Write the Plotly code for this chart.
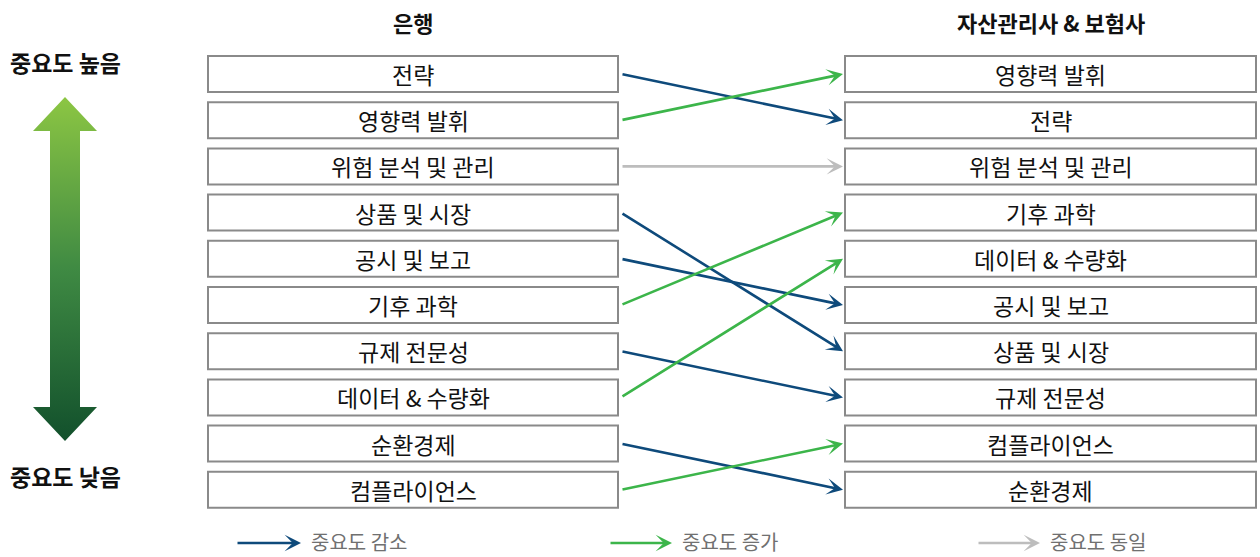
import base64
import plotly.graph_objects as go

# Competency ranking, most important first
bank_rank = ["전략", "영향력 발휘", "위험 분석 및 관리", "상품 및 시장", "공시 및 보고",
             "기후 과학", "규제 전문성", "데이터 & 수량화", "순환경제", "컴플라이언스"]
insurer_rank = ["영향력 발휘", "전략", "위험 분석 및 관리", "기후 과학", "데이터 & 수량화",
                "공시 및 보고", "상품 및 시장", "규제 전문성", "컴플라이언스", "순환경제"]

col_titles = ["은행", "자산관리사 & 보험사"]
scale_labels = ["중요도 높음", "중요도 낮음"]
legend_labels = ["중요도 감소", "중요도 증가", "중요도 동일"]

W, H = 1260, 557
FONT = "Noto Sans CJK KR"
C_DOWN, C_UP, C_SAME = "#0e4a7b", "#3cb54a", "#bdbdbd"
BOX_EDGE = "#8a8a8a"

# Layout geometry (pixel space)
ROW0, ROW_STEP, BOX_H = 74, 46.2, 36
LEFT_X0, LEFT_X1 = 208, 618
RIGHT_X0, RIGHT_X1 = 845, 1256
ARROW_X0, ARROW_X1 = 621, 843


def row_y(i):
    return ROW0 + i * ROW_STEP


fig = go.Figure()
shapes, annotations = [], []

# Ranked boxes on both sides
for items, x0, x1 in [(bank_rank, LEFT_X0, LEFT_X1), (insurer_rank, RIGHT_X0, RIGHT_X1)]:
    for i, name in enumerate(items):
        yc = row_y(i)
        shapes.append(dict(type="rect", xref="x", yref="y", x0=x0, x1=x1,
                           y0=yc - BOX_H / 2, y1=yc + BOX_H / 2,
                           line=dict(color=BOX_EDGE, width=2), fillcolor="white"))
        annotations.append(dict(x=(x0 + x1) / 2, y=yc, xref="x", yref="y", text=name,
                                showarrow=False, font=dict(family=FONT, size=23, color="#111")))

# Arrows from bank rank to asset manager / insurer rank
for i, name in enumerate(bank_rank):
    j = insurer_rank.index(name)
    color = C_UP if j < i else (C_DOWN if j > i else C_SAME)
    annotations.append(dict(x=ARROW_X1, y=row_y(j), ax=ARROW_X0, ay=row_y(i),
                            xref="x", yref="y", axref="x", ayref="y", text="",
                            showarrow=True, arrowhead=3, arrowsize=1.05, arrowwidth=2.6,
                            arrowcolor=color, standoff=0))

# Column titles
for text, xc in zip(col_titles, [(LEFT_X0 + LEFT_X1) / 2, (RIGHT_X0 + RIGHT_X1) / 2]):
    annotations.append(dict(x=xc, y=22, xref="x", yref="y", text=f"<b>{text}</b>",
                            showarrow=False, font=dict(family=FONT, size=22, color="#111")))

# Importance scale labels
for text, yc in zip(scale_labels, [62, 476]):
    annotations.append(dict(x=65, y=yc, xref="x", yref="y", text=f"<b>{text}</b>",
                            showarrow=False, font=dict(family=FONT, size=23, color="#111")))

# Gradient double-headed arrow for the importance scale
svg = (
    '<svg xmlns="http://www.w3.org/2000/svg" width="64" height="344" viewBox="0 0 64 344">'
    '<defs><linearGradient id="g" x1="0" y1="0" x2="0" y2="1">'
    '<stop offset="0" stop-color="#8cc643"/>'
    '<stop offset="0.5" stop-color="#3f8a43"/>'
    '<stop offset="1" stop-color="#12502c"/>'
    '</linearGradient></defs>'
    '<polygon fill="url(#g)" points="32,0 64,34 47,34 47,310 64,310 32,344 0,310 17,310 17,34 0,34"/>'
    '</svg>'
)
uri = "data:image/svg+xml;base64," + base64.b64encode(svg.encode()).decode()
images = [dict(source=uri, xref="x", yref="y", x=33, y=97, sizex=64, sizey=344,
               sizing="stretch", layer="above", xanchor="left", yanchor="top")]

# Legend row
legend_items = [(236, 301, C_DOWN), (609, 672, C_UP), (977, 1040, C_SAME)]
for (x0, x1, color), label in zip(legend_items, legend_labels):
    annotations.append(dict(x=x1, y=543, ax=x0, ay=543, xref="x", yref="y",
                            axref="x", ayref="y", text="", showarrow=True, arrowhead=3,
                            arrowsize=1.05, arrowwidth=2.6, arrowcolor=color, standoff=0))
    annotations.append(dict(x=x1 + 8, y=541, xref="x", yref="y", text=label,
                            xanchor="left", showarrow=False,
                            font=dict(family=FONT, size=20, color="#707070")))

fig.update_layout(
    width=W, height=H, margin=dict(l=0, r=0, t=0, b=0),
    paper_bgcolor="white", plot_bgcolor="white",
    xaxis=dict(range=[0, W], visible=False, fixedrange=True),
    yaxis=dict(range=[H, 0], visible=False, fixedrange=True),
    shapes=shapes, annotations=annotations, images=images, showlegend=False,
)

fig.write_html("out.html", config={"displayModeBar": False})
